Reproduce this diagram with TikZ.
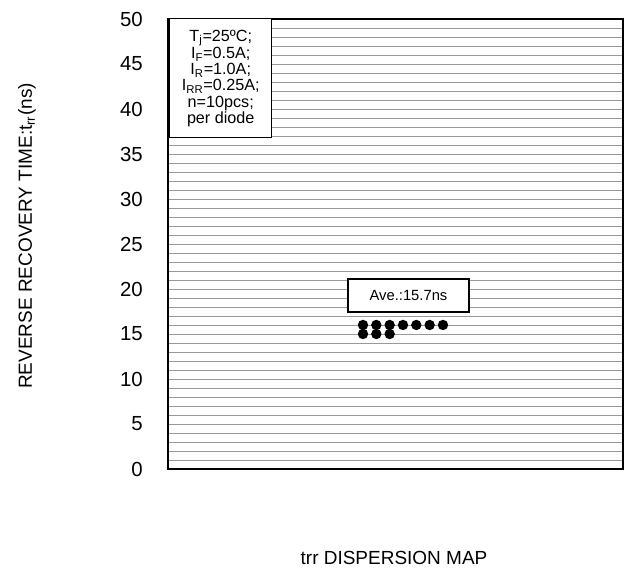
\documentclass[tikz,border=0pt]{standalone}
\usepackage{fontspec}
\setmainfont{Liberation Sans}
\usetikzlibrary{positioning,calc}
\tikzset{%
	frame/.style     = {draw, line width=1.4pt}, % plot frame
	gridline/.style  = {draw=black!40, line width=0.6pt},
	ticklabel/.style = {anchor=east, inner sep=0pt, font=\fontsize{14.5}{16}\selectfont},
	axislabel/.style = {inner sep=0pt, font=\fontsize{13.5}{16}\selectfont},
	infobox/.style   = {draw, fill=white, line width=1pt, align=center, inner sep=0pt},
	sample/.style    = {circle, fill=black, inner sep=0pt, minimum size=0.26cm}, % one diode
}

\begin{document}
\begin{tikzpicture}[x=0.025cm, y=0.025cm]
		\useasboundingbox (0,0) rectangle (631,576);
		% plot area
		\coordinate (ll) at (168,107);
		\coordinate (ur) at (623,557);
		\foreach \v in {1,...,49}
			\draw[gridline] (168,107+9*\v) -- (623,107+9*\v);
		\draw[frame] (ll) rectangle (ur);
		\foreach \v in {0,5,...,50}
			\node[ticklabel] (tick\v) at (143,107+9*\v) {\v};
		\node[axislabel, rotate=90] (ylabel) at (27,340) {REVERSE RECOVERY TIME:t\textsubscript{rr}(ns)};
		\node[axislabel] (title) at (394,18) {trr DISPERSION MAP};
		% conditions
		\node[infobox, anchor=north west, minimum width=2.55cm, minimum height=2.975cm,
			font=\fontsize{11.5}{11.4}\selectfont] (cond) at (169,558)
			{T\textsubscript{j}=25ºC;\\I\textsubscript{F}=0.5A;\\I\textsubscript{R}=1.0A;\\I\textsubscript{RR}=0.25A;\\n=10pcs;\\per diode};
		% measured values
		\foreach \i in {0,...,6}
			\node[sample] (top\i) at (363+13.33*\i,107+9*16) {};
		\foreach \i in {0,...,2}
			\node[sample] (low\i) at (363+13.33*\i,107+9*15) {};
		\node[infobox, minimum width=3.025cm, minimum height=0.825cm,
			font=\fontsize{10.5}{12}\selectfont] (ave) at (408.5,280.5) {Ave.:15.7ns};
\end{tikzpicture}
\end{document}
